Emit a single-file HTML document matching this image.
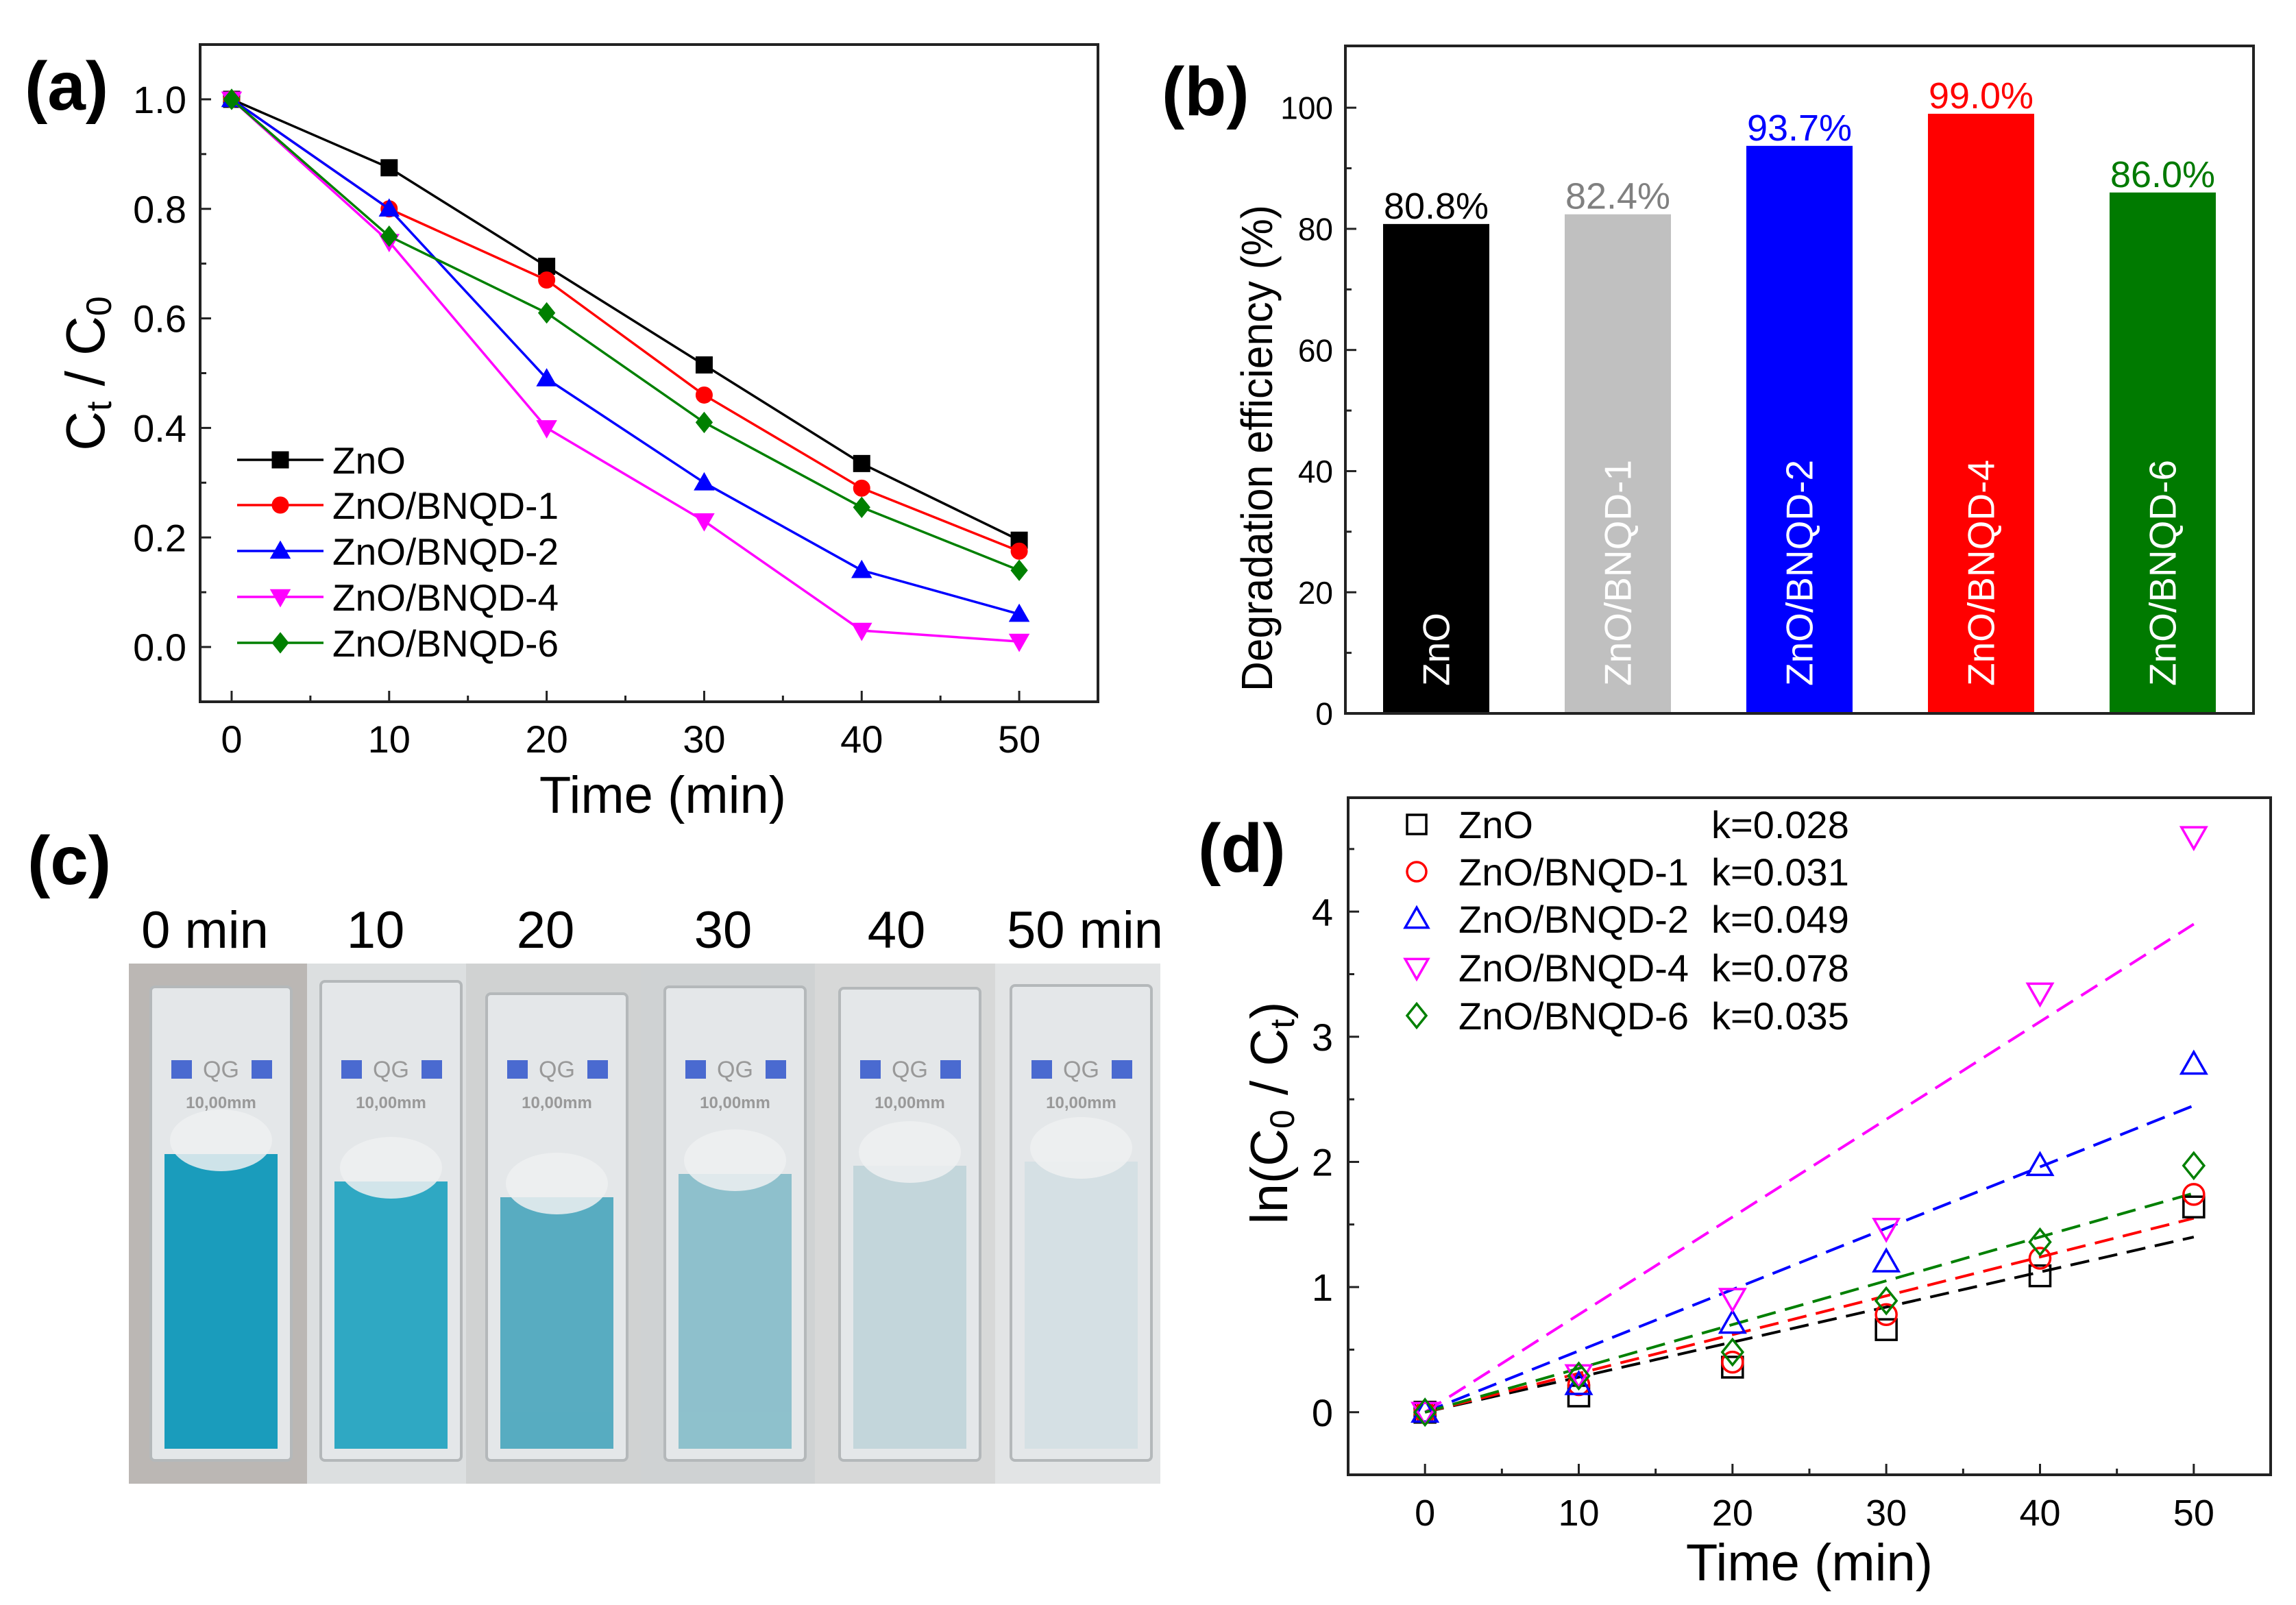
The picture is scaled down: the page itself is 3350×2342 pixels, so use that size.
<!DOCTYPE html>
<html><head><meta charset="utf-8"><style>
html,body{margin:0;padding:0;background:#fff;}
svg{display:block;font-family:"Liberation Sans",sans-serif;}
</style></head><body>
<svg id="fig" width="3350" height="2342" viewBox="0 0 3350 2342" xmlns="http://www.w3.org/2000/svg">
<rect width="3350" height="2342" fill="#fff"/>
<text x="36" y="160" font-size="100" font-weight="bold">(a)</text>
<text x="1695" y="168" font-size="100" font-weight="bold">(b)</text>
<text x="40" y="1290" font-size="100" font-weight="bold">(c)</text>
<text x="1748" y="1272" font-size="100" font-weight="bold">(d)</text>
<g id="pa"></g>
<g id="pb"></g>
<g id="pc"></g>
<g id="pd"></g>
</svg>
<script>
const seriesNames = ["ZnO","ZnO/BNQD-1","ZnO/BNQD-2","ZnO/BNQD-4","ZnO/BNQD-6"];
const seriesColors = ["#000000","#ff0000","#0000ff","#ff00ff","#008000"];
const timeValues = [0,10,20,30,40,50];
const ratioZnO = [1,0.875,0.695,0.515,0.335,0.195];
const ratioB1 = [1,0.80,0.67,0.46,0.29,0.175];
const ratioB2 = [1,0.80,0.49,0.30,0.14,0.06];
const ratioB4 = [1,0.74,0.40,0.23,0.03,0.01];
const ratioB6 = [1,0.75,0.61,0.41,0.255,0.14];
const efficiencyValues = [80.8,82.4,93.7,99.0,86.0];
const efficiencyLabels = ["80.8%","82.4%","93.7%","99.0%","86.0%"];
const barColors = ["#000000","#c0c0c0","#0000ff","#ff0000","#007a00"];
const valueColors = ["#000000","#808080","#0000ff","#ff0000","#007a00"];
const lnZnO = [0,0.13,0.36,0.66,1.09,1.64];
const lnB1 = [0,0.22,0.40,0.78,1.23,1.74];
const lnB2 = [0,0.22,0.71,1.20,1.97,2.78];
const lnB4 = [0,0.30,0.91,1.47,3.35,4.60];
const lnB6 = [0,0.29,0.48,0.89,1.36,1.97];
const rateK = [0.028,0.031,0.049,0.078,0.035];
const rateLabels = ["k=0.028","k=0.031","k=0.049","k=0.078","k=0.035"];
const photoLabels = ["0 min","10","20","30","40","50 min"];
const liquidColors = ["#1a9cbc","#2fa8c3","#58acc1","#8ec0cc","#c3d6db","#d5e0e4"];
const aTicksX = [0,10,20,30,40,50];
const aTicksY = [0,0.2,0.4,0.6,0.8,1.0];
const aTickLabelsY = ["0.0","0.2","0.4","0.6","0.8","1.0"];
const bTicksY = [0,20,40,60,80,100];
const dTicksY = [0,1,2,3,4];

const NS="http://www.w3.org/2000/svg";
function mk(parent,tag,attrs,text){const e=document.createElementNS(NS,tag);for(const k in attrs)e.setAttribute(k,attrs[k]);if(text!==undefined)e.textContent=text;parent.appendChild(e);return e;}
function scale(d0,d1,r0,r1){return v=>r0+(v-d0)*(r1-r0)/(d1-d0);}

function frame(g,L,T,R,B){const f=mk(g,'rect',{x:L,y:T,width:R-L,height:B-T,fill:'none',stroke:'#222','stroke-width':4});

}
function xTicks(g,sx,B,majors,minors,fs,labelY){
  majors.forEach(v=>{const l=mk(g,'line',{x1:sx(v),x2:sx(v),y1:B,y2:B-16,stroke:'#222','stroke-width':3});
    
    
    const t=mk(g,'text',{x:sx(v),y:labelY,'font-size':fs,'text-anchor':'middle'},String(v));
    
    });
  minors.forEach(v=>{const l=mk(g,'line',{x1:sx(v),x2:sx(v),y1:B,y2:B-9,stroke:'#222','stroke-width':3});
    
    });
}
function yTicks(g,sy,L,majors,labels,minors,fs,labelX){
  majors.forEach((v,i)=>{const l=mk(g,'line',{x1:L,x2:L+16,y1:sy(v),y2:sy(v),stroke:'#222','stroke-width':3});
    
    
    const t=mk(g,'text',{x:labelX,y:sy(v)+fs*0.36,'font-size':fs,'text-anchor':'end'},labels[i]);
    
    });
  minors.forEach(v=>{const l=mk(g,'line',{x1:L,x2:L+9,y1:sy(v),y2:sy(v),stroke:'#222','stroke-width':3});
    
    });
}
function marker(g,type,x,y,s,color,filled){
  const fill=filled?color:'none',sw=filled?1:3.5;let e;
  if(type===0)e=mk(g,'rect',{x:x-s/2,y:y-s/2,width:s,height:s,fill:fill,stroke:color,'stroke-width':sw});
  else if(type===1)e=mk(g,'circle',{cx:x,cy:y,r:s/2,fill:fill,stroke:color,'stroke-width':sw});
  else if(type===2)e=mk(g,'polygon',{points:`${x},${y-s*0.6} ${x-s*0.6},${y+s*0.45} ${x+s*0.6},${y+s*0.45}`,fill:fill,stroke:color,'stroke-width':sw});
  else if(type===3)e=mk(g,'polygon',{points:`${x},${y+s*0.6} ${x-s*0.6},${y-s*0.45} ${x+s*0.6},${y-s*0.45}`,fill:fill,stroke:color,'stroke-width':sw});
  else e=mk(g,'polygon',{points:`${x},${y-s*0.62} ${x+s*0.5},${y} ${x},${y+s*0.62} ${x-s*0.5},${y}`,fill:fill,stroke:color,'stroke-width':sw});
  
  
  return e;
}

(function(){
  const g=document.getElementById('pa');
  const L=292,R=1602,T=65,B=1024;
  const sx=scale(-2,55,L,R), sy=scale(-0.1,1.1,B,T);
  const ratios=[ratioZnO,ratioB1,ratioB2,ratioB4,ratioB6];
  ratios.forEach((arr,si)=>{
    const p=mk(g,'polyline',{points:arr.map((v,i)=>sx(timeValues[i])+','+sy(v)).join(' '),fill:'none',stroke:seriesColors[si],'stroke-width':3.5});
    
    
    arr.forEach((v,i)=>marker(g,si,sx(timeValues[i]),sy(v),24,seriesColors[si],true));
  });
  frame(g,L,T,R,B);
  xTicks(g,sx,B,aTicksX,[5,15,25,35,45],56,1098);
  yTicks(g,sy,L,aTicksY,aTickLabelsY,[0.1,0.3,0.5,0.7,0.9],56,272);
  const xt=mk(g,'text',{x:967,y:1186,'font-size':76,'text-anchor':'middle'},'Time (min)');
  
  
  const yt=mk(g,'text',{transform:'translate(152,545) rotate(-90)','font-size':80,'text-anchor':'middle'});
  
  
  mk(yt,'tspan',{},'C');mk(yt,'tspan',{'font-size':52,dy:10},'t');mk(yt,'tspan',{dy:-10},' / C');mk(yt,'tspan',{'font-size':52,dy:10},'0');
  const rows=[671,737,804,871,938];
  seriesNames.forEach((n,i)=>{
    const lg=mk(g,'g',{});
    
    
    mk(lg,'line',{x1:346,x2:472,y1:rows[i],y2:rows[i],stroke:seriesColors[i],'stroke-width':3.5});
    marker(lg,i,409,rows[i],24,seriesColors[i],true);
    mk(lg,'text',{x:485,y:rows[i]+20,'font-size':55},n);
  });
})();

(function(){
  const g=document.getElementById('pb');
  const L=1963,R=3288,T=67,B=1041;
  const sx=scale(-0.5,4.5,L,R), sy=scale(0,110.2,B,T);
  const bw=(R-L)/5*0.585;
  efficiencyValues.forEach((v,i)=>{
    const cx=sx(i);
    const r=mk(g,'rect',{x:cx-bw/2,y:sy(v),width:bw,height:B-sy(v),fill:barColors[i]});
    
    
    const t=mk(g,'text',{x:cx,y:sy(v)-8,'font-size':54,'text-anchor':'middle',fill:valueColors[i]},efficiencyLabels[i]);
    
    
    const n=mk(g,'text',{transform:`translate(${cx+19},${B-40}) rotate(-90)`,'font-size':55,fill:'#fff'},seriesNames[i]);
    
    
  });
  frame(g,L,T,R,B);
  yTicks(g,sy,L,bTicksY,bTicksY.map(String),[10,30,50,70,90],46,1945);
  const yt=mk(g,'text',{transform:'translate(1856,654) rotate(-90)','font-size':64,'text-anchor':'middle',textLength:710,lengthAdjust:'spacingAndGlyphs'},'Degradation efficiency (%)');
  
  
})();

(function(){
  const g=document.getElementById('pc');
  const segX=[188,448,680,935,1189,1452,1693];
  const segBg=["#bbb7b4","#dcdfe0","#d0d2d2","#cfd2d3","#d7d8d8","#e2e4e5"];
  const cuvX=[220,468,710,970,1225,1475];
  const cuvTop=[1440,1432,1450,1440,1442,1438];
  const liqTop=[1684,1724,1747,1713,1701,1695];
  const labelX=[299,548,796,1055,1308,1583];
  for(let i=0;i<6;i++){
    const bg=mk(g,'rect',{x:segX[i],y:1406,width:segX[i+1]-segX[i],height:759,fill:segBg[i]});
    
    
    const cg=mk(g,'g',{});
    
    
    const x=cuvX[i],w=205;
    mk(cg,'rect',{x:x,y:cuvTop[i],width:w,height:2131-cuvTop[i],fill:'#e4e7e9',stroke:'#b4b8ba','stroke-width':4,rx:6});
    mk(cg,'rect',{x:x+20,y:liqTop[i],width:w-40,height:2114-liqTop[i],fill:liquidColors[i]});
    mk(cg,'ellipse',{cx:x+w/2,cy:liqTop[i]-20,rx:w/2-28,ry:45,fill:'#eef0f1',opacity:0.85});
    mk(cg,'rect',{x:x+20,y:2060,width:w-40,height:54,fill:liquidColors[i],opacity:0.8});
    mk(cg,'rect',{x:x+30,y:1547,width:30,height:27,fill:'#4a6ad0'});
    mk(cg,'rect',{x:x+w-58,y:1547,width:30,height:27,fill:'#4a6ad0'});
    mk(cg,'text',{x:x+w/2,y:1572,'font-size':34,'text-anchor':'middle',fill:'#999'},'QG');
    mk(cg,'text',{x:x+w/2,y:1617,'font-size':24,'text-anchor':'middle',fill:'#999','font-weight':'bold'},'10,00mm');
    const t=mk(g,'text',{x:labelX[i],y:1383,'font-size':76,'text-anchor':'middle'},photoLabels[i]);
    
    
  }
})();

(function(){
  const g=document.getElementById('pd');
  const L=1967,R=3313,T=1164,B=2152;
  const sx=scale(-5,55,L,R), sy=scale(-0.5,4.91,B,T);
  const lns=[lnZnO,lnB1,lnB2,lnB4,lnB6];
  rateK.forEach((k,si)=>{
    const l=mk(g,'line',{x1:sx(0),y1:sy(0),x2:sx(50),y2:sy(k*50),stroke:seriesColors[si],'stroke-width':4,'stroke-dasharray':'28,14'});
    
    
  });
  lns.forEach((arr,si)=>arr.forEach((v,i)=>marker(g,si,sx(timeValues[i]),sy(v),30,seriesColors[si],false)));
  frame(g,L,T,R,B);
  xTicks(g,sx,B,aTicksX,[-5,5,15,25,35,45],54,2226);
  yTicks(g,sy,L,dTicksY,dTicksY.map(String),[0.5,1.5,2.5,3.5,4.5],56,1945);
  const xt=mk(g,'text',{x:2640,y:2306,'font-size':76,'text-anchor':'middle'},'Time (min)');
  
  
  const yt=mk(g,'text',{transform:'translate(1878,1624) rotate(-90)','font-size':76,'text-anchor':'middle'});
  
  
  mk(yt,'tspan',{},'ln(C');mk(yt,'tspan',{'font-size':50,dy:10},'0');mk(yt,'tspan',{dy:-10},' / C');mk(yt,'tspan',{'font-size':50,dy:10},'t');mk(yt,'tspan',{dy:-10},')');
  const rows=[1203,1272,1341,1412,1482];
  seriesNames.forEach((n,i)=>{
    const lg=mk(g,'g',{});
    
    
    marker(lg,i,2067,rows[i],28,seriesColors[i],false);
    mk(lg,'text',{x:2128,y:rows[i]+20,'font-size':56},n);
    mk(lg,'text',{x:2497,y:rows[i]+20,'font-size':56},rateLabels[i]);
  });
})();
</script>
</body></html>
